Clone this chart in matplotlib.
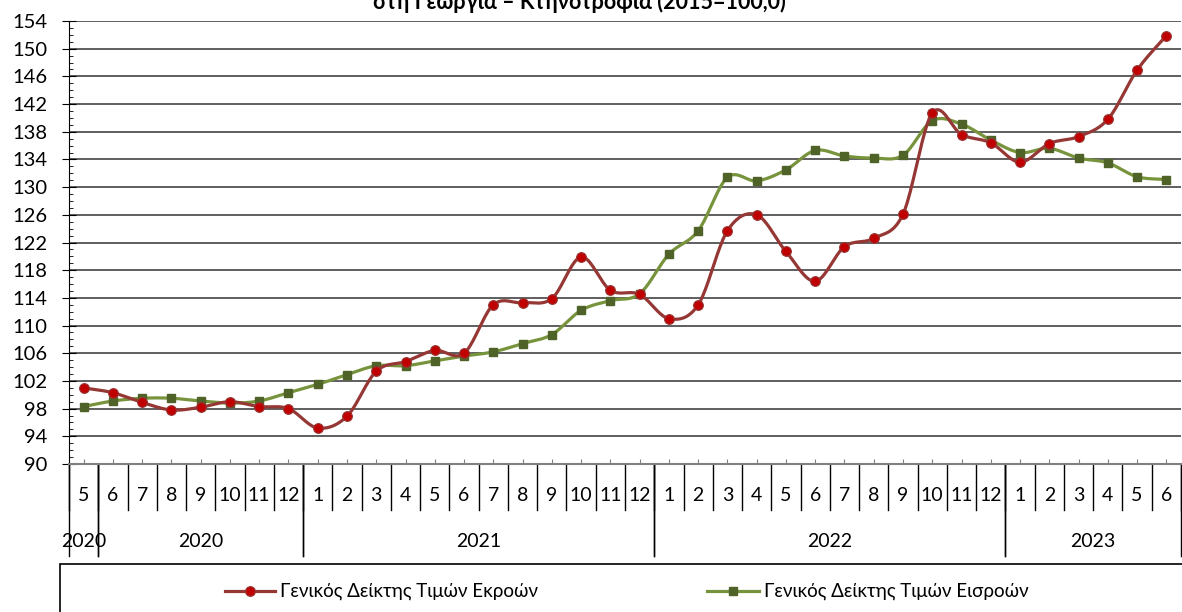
import numpy as np
import matplotlib
matplotlib.use("Agg")
import matplotlib.pyplot as plt
from matplotlib.lines import Line2D
from matplotlib.patches import Rectangle
from matplotlib.ticker import MultipleLocator
import matplotlib.transforms as mtransforms

plt.rcParams['font.family'] = ['Lato', 'Noto Sans', 'DejaVu Sans']

# data: May 2020 .. June 2023
months = [5, 6, 7, 8, 9, 10, 11, 12,
          1, 2, 3, 4, 5, 6, 7, 8, 9, 10, 11, 12,
          1, 2, 3, 4, 5, 6, 7, 8, 9, 10, 11, 12,
          1, 2, 3, 4, 5, 6]
year_groups = [(0, 0, '2020'), (1, 7, '2020'), (8, 19, '2021'),
               (20, 31, '2022'), (32, 37, '2023')]
y_ticks = list(range(90, 155, 4))

output_idx = [101.0, 100.3, 98.9, 97.8, 98.2, 99.0, 98.3, 98.0,
              95.2, 96.9, 103.4, 104.8, 106.4, 106.0, 113.0, 113.3, 113.9, 119.9, 115.1, 114.5,
              111.0, 113.0, 123.7, 126.0, 120.7, 116.4, 121.4, 122.6, 126.1, 140.7, 137.6, 136.4,
              133.6, 136.3, 137.3, 139.8, 146.9, 151.9]
input_idx = [98.3, 99.1, 99.5, 99.5, 99.1, 98.8, 99.1, 100.3,
             101.5, 102.9, 104.2, 104.2, 104.9, 105.6, 106.2, 107.4, 108.7, 112.2, 113.6, 114.6,
             120.3, 123.7, 131.4, 130.9, 132.5, 135.3, 134.5, 134.2, 134.6, 139.6, 139.1, 136.8,
             135.0, 135.6, 134.2, 133.5, 131.5, 131.1]

label_out = 'Γενικός Δείκτης Τιμών Εκροών'
label_in = 'Γενικός Δείκτης Τιμών Εισροών'
title = 'στη Γεωργία – Κτηνοτροφία (2015=100,0)'

RED_LINE = '#953735'
RED_MARK = '#C00000'
GREEN_LINE = '#77933C'
GREEN_MARK = '#4F6228'


def smooth(x, y, n=20):
    # excel-like smoothed line (catmull-rom through the points)
    x = np.asarray(x, float)
    y = np.asarray(y, float)
    px = np.concatenate([[2 * x[0] - x[1]], x, [2 * x[-1] - x[-2]]])
    py = np.concatenate([[2 * y[0] - y[1]], y, [2 * y[-1] - y[-2]]])
    xs, ys = [], []
    t = np.linspace(0, 1, n, endpoint=False)
    for i in range(1, len(px) - 2):
        for p, out in ((px, xs), (py, ys)):
            p0, p1, p2, p3 = p[i - 1], p[i], p[i + 1], p[i + 2]
            c1 = p1 + (p2 - p0) / 6
            c2 = p2 - (p3 - p1) / 6
            out.extend((1 - t) ** 3 * p1 + 3 * (1 - t) ** 2 * t * c1
                       + 3 * (1 - t) * t ** 2 * c2 + t ** 3 * p2)
    xs.append(x[-1])
    ys.append(y[-1])
    return np.array(xs), np.array(ys)


W, H = 1182, 612
fig = plt.figure(figsize=(W / 100, H / 100), dpi=100)
ax = fig.add_axes([69 / W, 1 - 464 / H, 1112 / W, 443 / H])

x = np.arange(len(months))

ax.set_ylim(90, 154)
ax.set_xlim(-0.5, len(months) - 0.5)
ax.set_yticks(y_ticks)
ax.yaxis.set_minor_locator(MultipleLocator(1))
ax.grid(axis='y', which='major', color='#333333', lw=1.1)
ax.set_axisbelow(True)

sx, sy = smooth(x, input_idx)
ax.plot(sx, sy, color=GREEN_LINE, lw=2.3, solid_capstyle='round', zorder=3)
ax.plot(x, input_idx, 's', ms=6, color=GREEN_MARK, zorder=4)

sx, sy = smooth(x, output_idx)
ax.plot(sx, sy, color=RED_LINE, lw=2.3, solid_capstyle='round', zorder=5)
ax.plot(x, output_idx, 'o', ms=7, mfc=RED_MARK, mec=RED_LINE, mew=0.8, zorder=6)

for s in ['top', 'right']:
    ax.spines[s].set_visible(False)
ax.spines['left'].set_color('black')
ax.spines['bottom'].set_color('#808080')
ax.spines['bottom'].set_linewidth(1.5)

ax.tick_params(axis='y', which='major', direction='inout', length=9.5,
               labelsize=14.5, pad=11)
ax.tick_params(axis='y', which='minor', direction='in', length=3)
ax.set_xticks(x)
ax.set_xticklabels([])
ax.tick_params(axis='x', direction='in', length=3.5, color='#808080')

# two-level category axis below the plot
trans = mtransforms.blended_transform_factory(ax.transData, ax.transAxes)
for i, m in enumerate(months):
    ax.text(i, -0.070, str(m), transform=trans, ha='center', va='center',
            fontsize=14)
for b in np.arange(len(months) + 1) - 0.5:
    ax.plot([b, b], [0, -0.104], transform=trans, color='black', lw=1,
            clip_on=False)
for a, b, yr in year_groups:
    ax.text((a + b) / 2, -0.174, yr, transform=trans, ha='center',
            va='center', fontsize=14)
    for e in (a - 0.5, b + 0.5):
        ax.plot([e, e], [0, -0.208], transform=trans, color='black', lw=1,
                clip_on=False)

# title (cut at the top edge as in the original)
fig.text(0.49, 1 - 9 / H, title, ha='center', va='baseline',
         fontsize=15.5, fontweight='bold')

# legend box
fig.add_artist(Rectangle((60 / W, -0.2), 2, 0.2 + (H - 564) / H,
                         transform=fig.transFigure, fill=False,
                         ec='black', lw=1.2))
ly = 1 - 591 / H
fig.add_artist(Line2D([225 / W, 275 / W], [ly, ly], transform=fig.transFigure,
                      color=RED_LINE, lw=2.3))
fig.add_artist(Line2D([250 / W], [ly], transform=fig.transFigure, marker='o',
                      ms=7, mfc=RED_MARK, mec=RED_LINE, mew=0.8))
fig.text(280 / W, ly, label_out, va='center', ha='left', fontsize=13.5)
fig.add_artist(Line2D([707 / W, 759 / W], [ly, ly], transform=fig.transFigure,
                      color=GREEN_LINE, lw=2.3))
fig.add_artist(Line2D([733 / W], [ly], transform=fig.transFigure, marker='s',
                      ms=6, color=GREEN_MARK))
fig.text(764 / W, ly, label_in, va='center', ha='left', fontsize=13.5)

fig.savefig('out.png', dpi=100)
